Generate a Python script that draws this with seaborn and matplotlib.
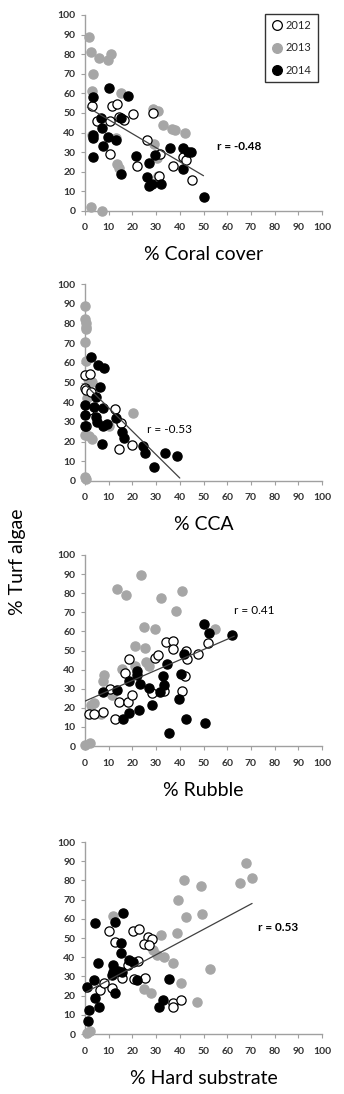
import pandas as pd
import matplotlib
matplotlib.use('Agg')
import matplotlib.pyplot as plt
import seaborn as sns
from matplotlib.lines import Line2D

# % Coral cover vs % turf algae
coral_2012_x = [3, 5, 10.5, 11.3, 13.5, 14.5, 16.5, 20.3, 10.7, 22, 26, 28.6, 31.6, 31.3, 37.3, 41.5, 42.5, 45]
coral_2012_y = [53.5, 46, 46, 53.5, 54.7, 48, 46.3, 49.5, 29, 23, 36.3, 50, 29, 18, 22.8, 27.6, 26, 16]
coral_2013_x = [1.5, 2.5, 3.5, 6, 9.5, 11, 3, 15, 3, 13, 2.5, 7, 28.5, 31, 33, 36.5, 38, 42, 13.5, 14.5, 29, 30.5, 31]
coral_2013_y = [89, 81, 70, 78, 77, 80, 61, 60, 39, 37, 2, 0, 52, 51, 44, 42, 41.5, 40, 24, 22, 34, 27, 18]
coral_2014_x = [3.2, 10.1, 18, 6.6, 7, 3.5, 3.5, 3.2, 7.7, 9.9, 13, 15, 15, 21.5, 27, 26.3, 26.9, 28.2, 29.6, 32,
                35.9, 41.5, 43.3, 44.8, 41.2, 50.3]
coral_2014_y = [58, 63, 58.6, 47.5, 42.6, 38.7, 37, 27.6, 33, 37.8, 36, 47.2, 18.7, 28, 24.5, 17.4, 12.6, 14, 28.8, 13.6,
                32.2, 31.9, 30.2, 30.2, 21.6, 7.2]

# % CCA
cca_2012_x = [0, 2, 0, 0.6, 2.7, 12.6, 15.3, 14.5, 20, 0.6, 1.5]
cca_2012_y = [53.8, 54.3, 47, 46.2, 45.3, 36.5, 29.5, 16, 18.3, 28, 36]
cca_2013_x = [0, 0, 0.5, 0.5, 0.5, 0, 0.6, 1.3, 3, 1.3, 1, 20.3, 0, 1.5, 3, 10, 0, 0.5]
cca_2013_y = [89, 82, 80, 78, 77, 70.5, 61, 52, 50.5, 45, 42, 34.5, 23.5, 23, 21.5, 28, 2, 1]
cca_2014_x = [2.6, 5.4, 8, 6.3, 4.7, 0, 0, 0, 3.6, 7.6, 4.8, 5, 7.4, 9.4, 13, 7, 15.5, 16.3, 24.4, 25.2, 29.2, 33.6, 39]
cca_2014_y = [62.8, 58.9, 57.5, 47.5, 42.6, 38.6, 33.4, 28, 37.5, 37.3, 32.5, 30, 28, 28.8, 32, 18.8, 24.7, 21.8, 17.8,
              14, 7.3, 14, 12.8]

# % Rubble
rubble_2012_x = [1.5, 7.8, 10.6, 12.7, 14.4, 18, 17, 18.7, 20, 29.7, 30.7, 28.3, 33.5, 34.2, 37.3, 37, 42.7, 43, 42,
                 40.9, 47.7, 51.9, 4]
rubble_2012_y = [16.5, 18, 30, 14.3, 23, 23, 38, 45.7, 26.5, 46.1, 47.5, 27.9, 28.7, 54.4, 55.2, 50.8, 50, 45.7, 36.6,
                 28.8, 48.2, 54, 16.5]
rubble_2013_x = [23.6, 13.7, 17.5, 32, 41, 38.5, 29.7, 24.8, 21.2, 25.3, 54.7, 25.7, 27, 15.8, 21, 8, 7.4, 11.3, 3.8,
                 2.4, 0, 2, 6.6]
rubble_2013_y = [89.5, 82, 79, 77.5, 81, 70.5, 61, 62.5, 52.5, 51.5, 61.5, 44, 42, 40.5, 42, 37, 34, 26.5, 22.5, 21.5,
                 0.5, 1.7, 17]
rubble_2014_x = [7.4, 13.7, 16.1, 18.4, 18.7, 21.8, 21.8, 22.6, 23.2, 27.2, 28.3, 31.7, 33, 33.5, 34.7, 35.4, 39.6,
                 40.3, 41.7, 42.7, 50, 52.3, 50.5, 62.2]
rubble_2014_y = [28.3, 29.5, 14, 17.5, 33.9, 39.1, 37, 18.8, 32.6, 30.4, 21.6, 28.3, 36.6, 32.1, 42.8, 7, 24.6, 37.5,
                 48.2, 14, 63.7, 59.3, 12.2, 58.1]

# % Hard substrate
hard_2012_x = [10.3, 20.1, 22.9, 12.7, 26.7, 28.1, 24.9, 27.1, 22.5, 18.3, 6.3, 8, 11.3, 15.5, 20.7, 25.3, 37, 37.3,
               40.4]
hard_2012_y = [53.8, 53.8, 54.7, 47.7, 50.3, 49.3, 46.9, 46.4, 38.2, 35.9, 22.9, 26.4, 23.8, 29, 28.5, 29.3, 16.3, 13.9,
               17.7]
hard_2013_x = [67.9, 65.3, 70.3, 41.7, 49.1, 39.4, 42.6, 49.2, 38.9, 32.1, 11.7, 28.8, 30.5, 33.5, 37.3, 52.7, 40.4,
               24.9, 27.7, 47.1, 2.1, 0.7]
hard_2013_y = [89, 78.7, 81.3, 80.4, 77, 70, 61, 62.5, 52.4, 51.5, 61.3, 43.8, 41, 40, 36.8, 33.7, 26.4, 23.3, 21.2,
               16.8, 1.5, 0.5]
hard_2014_x = [4.2, 12.7, 16.2, 15, 15, 5.6, 12, 12, 14, 15.5, 18.7, 20.4, 11.3, 3.8, 0.7, 12.7, 4.2, 6, 1.8, 1.4, 22,
               35.6, 32.8, 31.4]
hard_2014_y = [57.6, 58.5, 63.2, 47.5, 42.3, 36.8, 36, 32.5, 33, 32.5, 38.5, 37.7, 30.7, 28.1, 24.3, 21.2, 18.6, 13.9,
               12.5, 6.9, 28.1, 28.6, 17.7, 13.9]

# trend lines (end points)
coral_trend_x, coral_trend_y = [1, 50], [53, 18]
cca_trend_x, cca_trend_y = [0, 40], [49, 1.5]
rubble_trend_x, rubble_trend_y = [0, 63], [23.5, 57.5]
hard_trend_x, hard_trend_y = [0, 70.5], [21.5, 68]

years = ['2012', '2013', '2014']
r_labels = ['r = -0.48', 'r = -0.53', 'r = 0.41', 'r = 0.53']
x_labels = ['% Coral cover', '% CCA', '% Rubble', '% Hard substrate']
ticks = list(range(0, 101, 10))

sns.set_style('white')
plt.rcParams['font.family'] = ['Lato', 'DejaVu Sans']

# year styles: face colour, edge colour
styles = {
    '2012': ('white', 'black'),
    '2013': ('#a6a6a6', '#a6a6a6'),
    '2014': ('black', 'black'),
}
draw_order = ['2013', '2012', '2014']
axis_grey = '#a0a0a0'


def make_frame(x12, y12, x13, y13, x14, y14):
    parts = []
    for yr, xs, ys in zip(years, [x12, x13, x14], [y12, y13, y14]):
        parts.append(pd.DataFrame({'x': xs, 'y': ys, 'year': yr}))
    return pd.concat(parts, ignore_index=True)


panels = [
    (make_frame(coral_2012_x, coral_2012_y, coral_2013_x, coral_2013_y, coral_2014_x, coral_2014_y),
     coral_trend_x, coral_trend_y, (55.5, 32.7), True),
    (make_frame(cca_2012_x, cca_2012_y, cca_2013_x, cca_2013_y, cca_2014_x, cca_2014_y),
     cca_trend_x, cca_trend_y, (26, 26), False),
    (make_frame(rubble_2012_x, rubble_2012_y, rubble_2013_x, rubble_2013_y, rubble_2014_x, rubble_2014_y),
     rubble_trend_x, rubble_trend_y, (63, 71), False),
    (make_frame(hard_2012_x, hard_2012_y, hard_2013_x, hard_2013_y, hard_2014_x, hard_2014_y),
     hard_trend_x, hard_trend_y, (73, 55.5), True),
]

fig = plt.figure(figsize=(3.44, 10.94), dpi=100)
# axes boxes in pixels: (top, bottom)
boxes = [(15, 211), (284, 481), (555, 746), (842, 1034)]
W, H = 344, 1094
left, right = 85, 322

for i, (df, tx, ty, rpos, rbold) in enumerate(panels):
    top, bottom = boxes[i]
    ax = fig.add_axes([left / W, 1 - bottom / H, (right - left) / W, (bottom - top) / H])

    for yr in draw_order:
        fc, ec = styles[yr]
        sns.scatterplot(data=df[df['year'] == yr], x='x', y='y', ax=ax, s=44,
                        color=fc, edgecolor=ec, linewidth=0.9, clip_on=False, zorder=3)

    sns.lineplot(x=tx, y=ty, ax=ax, color='#404040', linewidth=0.9, zorder=4)

    ax.text(rpos[0], rpos[1], r_labels[i], fontsize=8.5, va='center', ha='left',
            fontweight='bold' if rbold else 'normal', color='black')

    ax.set_xlim(0, 100)
    ax.set_ylim(0, 100)
    ax.set_xticks(ticks)
    ax.set_yticks(ticks)
    for side in ['top', 'right']:
        ax.spines[side].set_visible(False)
    for side in ['left', 'bottom']:
        ax.spines[side].set_color(axis_grey)
        ax.spines[side].set_linewidth(1.0)
    ax.tick_params(axis='both', which='major', direction='out', length=3, width=0.8,
                   color=axis_grey, labelsize=7.5, labelcolor='#333333',
                   left=True, bottom=True)
    ax.tick_params(axis='x', pad=6)
    ax.tick_params(axis='y', pad=4)
    for lbl in ax.get_xticklabels() + ax.get_yticklabels():
        lbl.set_fontweight('bold')
    ax.set_ylabel('')
    ax.set_xlabel(x_labels[i], fontsize=14, va='center', color='black')
    ax.xaxis.set_label_coords(0.5, -44 / (bottom - top))

    if i == 0:
        handles = []
        for yr in years:
            fc, ec = styles[yr]
            handles.append(Line2D([], [], marker='o', linestyle='', markersize=7,
                                  markerfacecolor=fc, markeredgecolor=ec, markeredgewidth=0.9))
        leg = ax.legend(handles, years, loc='upper right', bbox_to_anchor=(1.005, 1.035),
                        frameon=True, fancybox=False, fontsize=8, labelspacing=1.0,
                        handletextpad=0.2, handlelength=1.0, borderpad=0.6)
        leg.get_frame().set_edgecolor('black')
        leg.get_frame().set_linewidth(1.0)
    else:
        if ax.get_legend() is not None:
            ax.get_legend().remove()

fig.text(18 / W, 1 - 562 / H, '% Turf algae', rotation=90, fontsize=14,
         ha='center', va='center', color='black')

fig.savefig('out.png', dpi=100)
